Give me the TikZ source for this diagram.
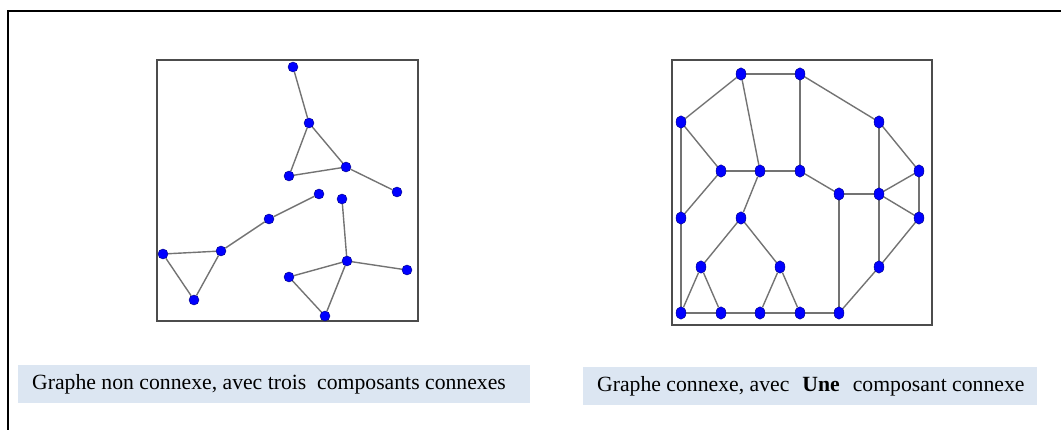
\documentclass[tikz,border=0pt]{standalone}
\usepackage{fontspec}
\setmainfont{Liberation Serif}
\usetikzlibrary{shapes.geometric,backgrounds}
\definecolor{capfill}{HTML}{DCE6F2}
\begin{document}
\begin{tikzpicture}[x=1pt,y=-1pt,
  dot/.style={circle,draw=blue!50!black,fill=blue,inner sep=0pt,minimum size=10pt},
  odot/.style={ellipse,draw=blue!50!black,fill=blue,inner sep=0pt,minimum width=10pt,minimum height=12.5pt},
  link/.style={draw=black!55,line width=1.4pt},
  cadre/.style={draw=black!70,line width=1.6pt},
  legende/.style={font=\fontsize{21.7}{26}\selectfont,inner sep=0pt}]
\useasboundingbox (0,0) rectangle (1061,430);
\draw[line width=2pt] (8,430) -- (8,11) -- (1061,11);

% non connexe
\draw[cadre] (157,60) rectangle (418,321);
\node[dot](a) at (293,67) {};
\node[dot](b) at (309,123) {};
\node[dot](c) at (289,176) {};
\node[dot](d) at (346,167) {};
\node[dot](e) at (397,192) {};
\node[dot](f) at (319,194) {};
\node[dot](g) at (269,219) {};
\node[dot](h) at (221,251) {};
\node[dot](i) at (163,254) {};
\node[dot](j) at (194,300) {};
\node[dot](k) at (342,199) {};
\node[dot](l) at (347,261) {};
\node[dot](m) at (407,270) {};
\node[dot](n) at (289,277) {};
\node[dot](o) at (325,316) {};
\begin{pgfonlayer}{background}
\foreach \u/\v in {a/b,b/c,b/d,c/d,d/e,f/g,g/h,h/i,i/j,j/h,k/l,l/m,l/n,n/o,o/l}
  \draw[link] (\u) -- (\v);
\end{pgfonlayer}

% connexe
\draw[cadre] (672,60) rectangle (932,325);
\node[odot](r1) at (741,74) {};
\node[odot](r2) at (800,74) {};
\node[odot](r3) at (681,122) {};
\node[odot](r4) at (879,122) {};
\node[odot](r5) at (721,171) {};
\node[odot](r6) at (760,171) {};
\node[odot](r7) at (800,171) {};
\node[odot](r8) at (919,171) {};
\node[odot](r9) at (839,194) {};
\node[odot](r10) at (879,194) {};
\node[odot](r11) at (681,218) {};
\node[odot](r12) at (741,218) {};
\node[odot](r13) at (919,218) {};
\node[odot](r14) at (701,267) {};
\node[odot](r15) at (780,267) {};
\node[odot](r16) at (879,267) {};
\node[odot](b1) at (681,313) {};
\node[odot](b2) at (721,313) {};
\node[odot](b3) at (760,313) {};
\node[odot](b4) at (800,313) {};
\node[odot](b5) at (839,313) {};
\begin{pgfonlayer}{background}
\foreach \u/\v in {r1/r2,r1/r3,r1/r6,r2/r7,r2/r4,r3/r5,r3/r11,r11/b1,r5/r6,r6/r7,r5/r11,
  r7/r9,r6/r12,r9/r10,r9/b5,r4/r8,r4/r10,r10/r8,r10/r13,r8/r13,r10/r16,r13/r16,r16/b5,
  r12/r14,r12/r15,r14/b1,r14/b2,r15/b3,r15/b4,b1/b2,b2/b3,b3/b4,b4/b5}
  \draw[link] (\u) -- (\v);
\end{pgfonlayer}

% legendes
\fill[capfill] (18,365) rectangle (530,403);
\node[legende,anchor=west](t1) at (32,384) {Graphe non connexe, avec trois\ \ composants connexes};
\fill[capfill] (583,367) rectangle (1037,405);
\node[legende,anchor=west](t2) at (597,386) {Graphe connexe, avec\hspace{0.6em}\textbf{Une}\hspace{0.6em}composant connexe};
\end{tikzpicture}
\end{document}
